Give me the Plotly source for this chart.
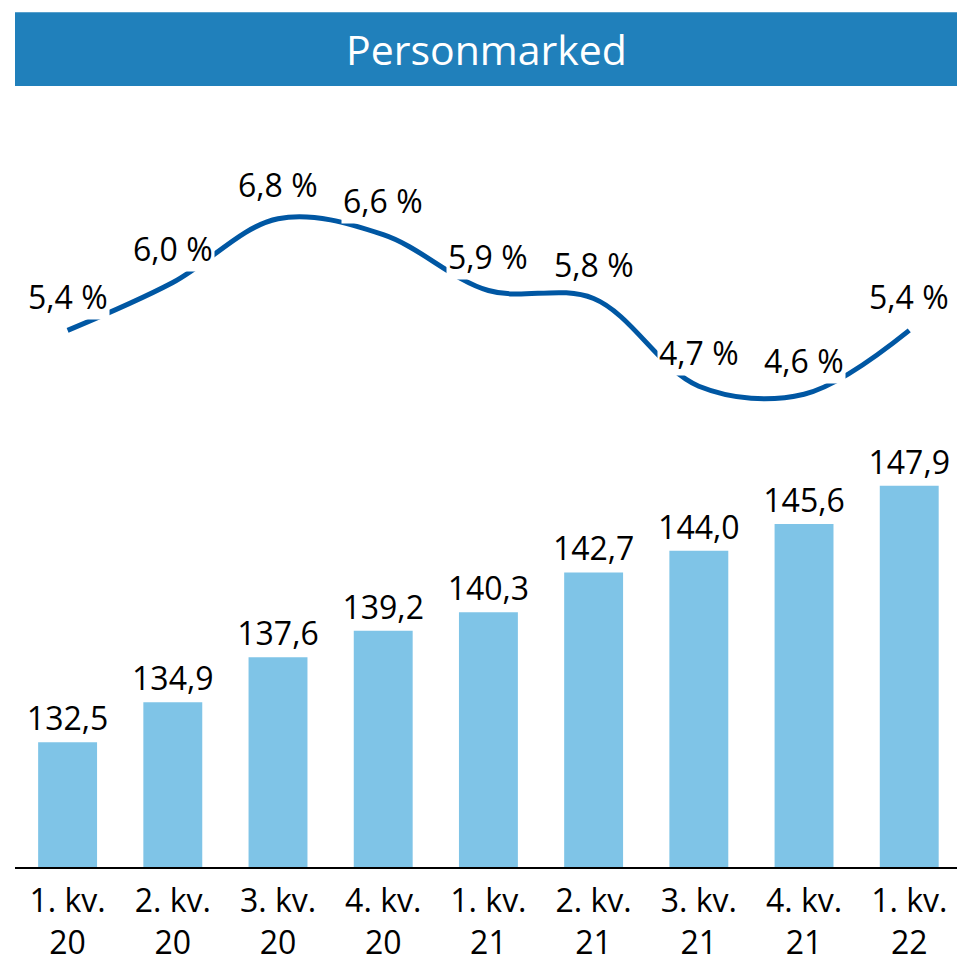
import plotly.graph_objects as go

quarters = ["1. kv.", "2. kv.", "3. kv.", "4. kv.", "1. kv.", "2. kv.", "3. kv.", "4. kv.", "1. kv."]
years = ["20", "20", "20", "20", "21", "21", "21", "21", "22"]
volume = [132.5, 134.9, 137.6, 139.2, 140.3, 142.7, 144.0, 145.6, 147.9]
growth = [5.4, 6.0, 6.8, 6.6, 5.9, 5.8, 4.7, 4.6, 5.4]
title_text = "Personmarked"

categories = [f"{q}<br>{y}" for q, y in zip(quarters, years)]
FONT = "Open Sans"

W, H = 957, 963
ML, MR, MT, MB = 15, 0, 100, 94
PW = W - ML - MR
PH = H - MT - MB


def fmt(v, dec=1):
    return f"{v:.{dec}f}".replace(".", ",")


fig = go.Figure()
fig.add_trace(go.Bar(
    x=categories, y=volume,
    marker=dict(color="#7FC4E7", line=dict(width=0)),
    width=0.56,
    text=[fmt(v) for v in volume],
    textposition="outside",
    constraintext="none",
    cliponaxis=False,
    textfont=dict(family=FONT, size=32, color="#000000"),
    hoverinfo="skip",
    yaxis="y",
))
fig.add_trace(go.Scatter(
    x=categories, y=growth,
    mode="lines",
    line=dict(color="#0057A3", width=5, shape="spline", smoothing=1.0),
    yaxis="y2",
    cliponaxis=False,
    hoverinfo="skip",
))

annotations = []
for c, g in zip(categories, growth):
    annotations.append(dict(
        x=c, y=g, xref="x", yref="y2",
        text=fmt(g) + " %", showarrow=False,
        yshift=34, bgcolor="#FFFFFF", borderpad=1,
        font=dict(family=FONT, size=32, color="#000000"),
    ))

# title text centred in the title bar
annotations.append(dict(
    x=(0.5 * (15 + W) - ML) / PW, y=(H - MB - 49) / PH,
    xref="paper", yref="paper", showarrow=False,
    text=title_text, xanchor="center", yanchor="middle",
    font=dict(family=FONT, size=41, color="#FFFFFF"),
))

fig.update_layout(
    width=W, height=H,
    margin=dict(l=ML, r=MR, t=MT, b=MB),
    paper_bgcolor="#FFFFFF", plot_bgcolor="#FFFFFF",
    showlegend=False,
    xaxis=dict(
        type="category", range=[-0.5, 8.454],
        showline=True, linecolor="#000000", linewidth=2,
        showgrid=False, ticks="", zeroline=False,
        tickfont=dict(family=FONT, size=32, color="#000000"),
        ticklabelstandoff=5,
    ),
    yaxis=dict(range=[125, 171.08], visible=False, showgrid=False, zeroline=False),
    yaxis2=dict(range=[-1.325, 8.2875], overlaying="y", visible=False,
                showgrid=False, zeroline=False),
    annotations=annotations,
    shapes=[dict(
        type="rect", xref="paper", yref="paper",
        x0=0.0, x1=1.0,
        y0=(H - MB - 86) / PH, y1=(H - MB - 12) / PH,
        line=dict(width=0), fillcolor="#2080BB", layer="below",
    )],
)

fig.write_html("out.html", config={"displayModeBar": False},
               post_script="document.body.style.margin='0';")
